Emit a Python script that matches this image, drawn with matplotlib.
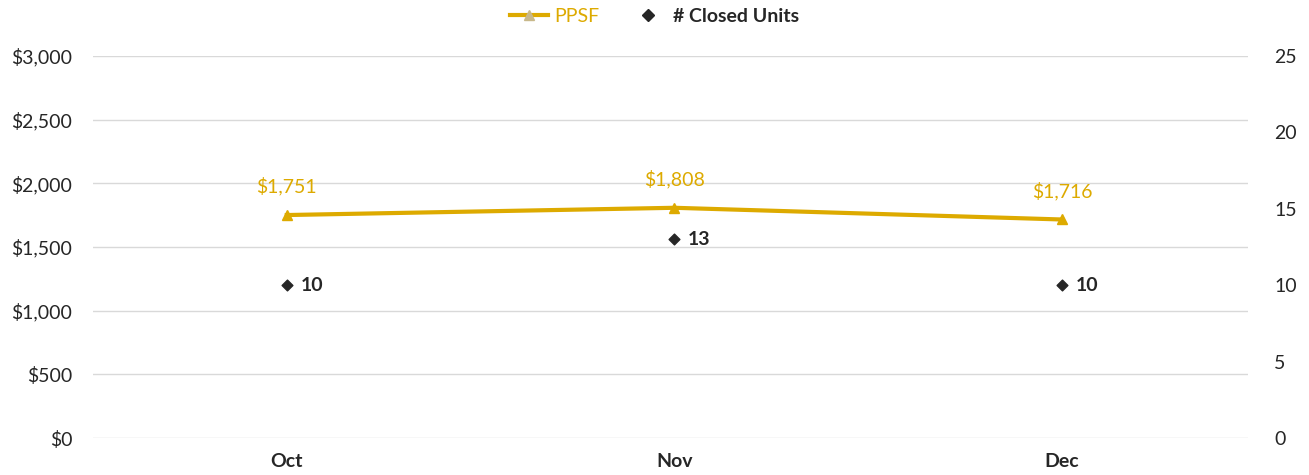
import matplotlib.pyplot as plt
from matplotlib.lines import Line2D
from matplotlib.ticker import FuncFormatter

months = ['Oct', 'Nov', 'Dec']
ppsf = [1751, 1808, 1716]
closed_units = [10, 13, 10]

gold = '#DDAA00'
dark = '#262626'
grid_c = '#D9D9D9'

plt.rcParams['font.family'] = ['Lato', 'DejaVu Sans']

fig = plt.figure(figsize=(13.09, 4.75), dpi=100)
ax1 = fig.add_axes([93 / 1309, 37 / 475, 1155 / 1309, 382 / 475])
ax2 = ax1.twinx()

x = list(range(len(months)))

ax1.plot(x, ppsf, color=gold, lw=3, marker='^', ms=7, zorder=3)
for xi, v in zip(x, ppsf):
    ax1.annotate('${:,}'.format(v), (xi, v), xytext=(0, 14), textcoords='offset points',
                 ha='center', va='bottom', color=gold, fontsize=14)

ax2.scatter(x, closed_units, marker='D', s=30, color=dark, zorder=4)
for xi, v in zip(x, closed_units):
    ax2.annotate(str(v), (xi, v), xytext=(10, 0), textcoords='offset points',
                 ha='left', va='center', color=dark, fontsize=14, fontweight='bold')

ax1.set_xlim(-0.5, 2.48)
ax1.set_ylim(0, 3000)
ax1.set_yticks(range(0, 3001, 500))
ax1.yaxis.set_major_formatter(FuncFormatter(lambda v, p: '${:,.0f}'.format(v)))
ax2.set_ylim(0, 25)
ax2.set_yticks(range(0, 26, 5))

ax1.set_xticks(x)
ax1.set_xticklabels(months, fontweight='bold')
ax1.grid(axis='y', color=grid_c, lw=1)
ax1.set_axisbelow(True)

for ax in (ax1, ax2):
    for s in ax.spines.values():
        s.set_visible(False)
    ax.tick_params(length=0, labelsize=14, colors=dark)
ax1.tick_params(axis='y', pad=15)
ax1.tick_params(axis='x', pad=11)
ax2.tick_params(axis='y', pad=19)

handles = [
    Line2D([0], [0], color=gold, lw=3, marker='^', ms=7, mfc='#C8B88A', mec='#C8B88A'),
    Line2D([0], [0], color='none', marker='D', ms=6, mfc=dark, mec=dark),
]
leg = fig.legend(handles, ['PPSF', '# Closed Units'], loc='upper center',
                 bbox_to_anchor=(0.5, 1.02), ncol=2, frameon=False, fontsize=14,
                 handlelength=2.0, handletextpad=0.3, columnspacing=1.5)
leg.get_texts()[0].set_color(gold)
leg.get_texts()[1].set_color(dark)
leg.get_texts()[1].set_fontweight('bold')

fig.savefig('out.png', dpi=100)
